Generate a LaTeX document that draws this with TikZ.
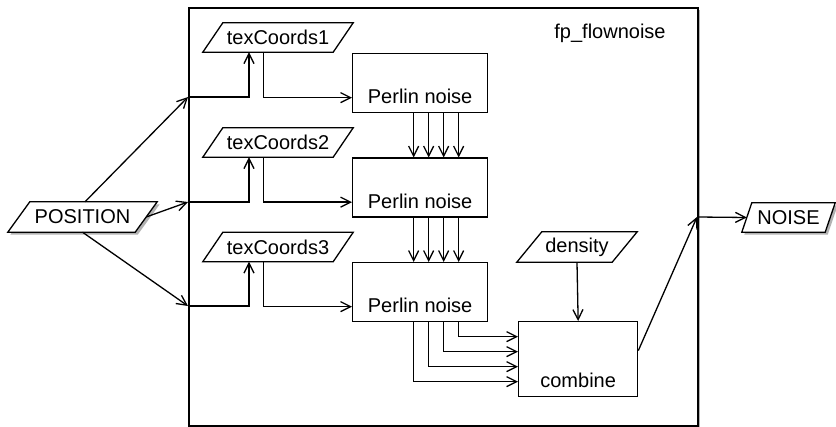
\documentclass[tikz,border=0pt]{standalone}
\usepackage{fontspec}
\setmainfont{Liberation Sans}
\usetikzlibrary{arrows.meta,shadows,calc}
\pgfdeclarelayer{bg}
\pgfdeclarelayer{mid}
\pgfsetlayers{bg,mid,main}
\tikzset{
  lw/.style={line width=1.3pt,draw=black},
  arr/.style={lw,-{Straight Barb[length=10pt,width=10pt,line width=1.3pt]}},
  shad/.style={drop shadow={shadow xshift=2.5pt,shadow yshift=-2.5pt,opacity=0.3,fill=black}},
  iobox/.style={rectangle,inner sep=0pt},
  proc/.style={lw,fill=white,rectangle,inner sep=0pt,anchor=north west}
}
\newcommand{\drawpara}[3][]{%
  \begin{pgfonlayer}{mid}
  \draw[lw,fill=white,#1] ($(#2.south west)+(-#3,0)$) -- ($(#2.north west)+(#3,0)$)
     -- ($(#2.north east)+(#3,0)$) -- ($(#2.south east)+(-#3,0)$) -- cycle;
  \end{pgfonlayer}}
\begin{document}
\begin{tikzpicture}[x=1pt,y=-1pt,
  font=\fontsize{20}{24}\selectfont]
\useasboundingbox (0,0) rectangle (836,427);
% outer box
\begin{pgfonlayer}{bg}
\node[draw=black,fill=white,line width=1.8pt,shad,minimum width=509pt,minimum height=418pt,inner sep=0pt,anchor=north west] (fp) at (188,7) {};
\end{pgfonlayer}
\node (title) at (610,33) {fp\_flownoise};

% inputs / outputs
\node[iobox,minimum width=127pt,minimum height=30pt] (pos) at (82.5,217) {POSITION};
\drawpara[shad]{pos}{11}
\node[iobox,minimum width=83pt,minimum height=29pt] (noise) at (788.5,217.5) {NOISE};
\drawpara[shad]{noise}{5}

% texCoords
\node[iobox,minimum width=130pt,minimum height=29pt] (tc1) at (278,37.5) {texCoords1};
\node[iobox,minimum width=130pt,minimum height=29pt] (tc2) at (278,142.5) {texCoords2};
\node[iobox,minimum width=130pt,minimum height=29pt] (tc3) at (278,247) {texCoords3};
\drawpara{tc1}{10}
\drawpara{tc2}{10}
\drawpara{tc3}{10}

% Perlin noise boxes
\node[proc,minimum width=135pt,text height=50pt,text depth=9pt] (p1) at (352,53) {Perlin noise};
\node[proc,minimum width=135pt,text height=50pt,text depth=9pt] (p2) at (352,157.5) {Perlin noise};
\node[proc,minimum width=135pt,text height=50pt,text depth=9pt] (p3) at (352,262) {Perlin noise};

% density and combine
\node[iobox,minimum width=95pt,minimum height=30pt] (dens) at (577,247) {density};
\drawpara{dens}{12.5}
\node[proc,minimum width=119pt,text height=66pt,text depth=9pt] (comb) at (518,321) {combine};

% junctions on the outer box
\coordinate (j1) at (188,97);
\coordinate (j2) at (188,202);
\coordinate (j3) at (188,306);
\coordinate (j4) at (697,217);

% POSITION fan-out
\draw[arr] ($(pos.north)+(2.5,0)$) -- (j1);
\draw[arr] (pos.east) -- (j2);
\draw[arr] (pos.south) -- (j3);

% junction -> texCoords -> Perlin
\draw[arr] (j1) -| ($(tc1.south)+(-29,0)$);
\draw[arr] (j2) -| ($(tc2.south)+(-29,0)$);
\draw[arr] (j3) -| ($(tc3.south)+(-29,0)$);
\draw[arr] ($(tc1.south)+(-14.5,0)$) |- ($(p1.west)+(0,14.5)$);
\draw[arr] ($(tc2.south)+(-14.5,0)$) |- ($(p2.west)+(0,14.5)$);
\draw[arr] ($(tc3.south)+(-14.5,0)$) |- ($(p3.west)+(0,14.5)$);

% Perlin -> Perlin (4 channels)
\foreach \d in {-6.5,8.5,23.5,38.5}{
  \draw[arr] ($(p1.south)+(\d,0)$) -- ($(p2.north)+(\d,0)$);
  \draw[arr] ($(p2.south)+(\d,0)$) -- ($(p3.north)+(\d,0)$);
}

% Perlin3 -> combine
\draw[arr] ($(p3.south)+(38.5,0)$) |- ($(comb.west)+(0,-22.5)$);
\draw[arr] ($(p3.south)+(23.5,0)$) |- ($(comb.west)+(0,-7.5)$);
\draw[arr] ($(p3.south)+(8.5,0)$) |- ($(comb.west)+(0,7.5)$);
\draw[arr] ($(p3.south)+(-6.5,0)$) |- ($(comb.west)+(0,22.5)$);

% density -> combine
\draw[arr] (dens.south) -- (comb.north);

% combine -> NOISE
\draw[arr] ($(comb.east)+(0,-8.5)$) -- (j4);
\draw[arr] (j4) -- (noise.west);
\end{tikzpicture}
\end{document}
